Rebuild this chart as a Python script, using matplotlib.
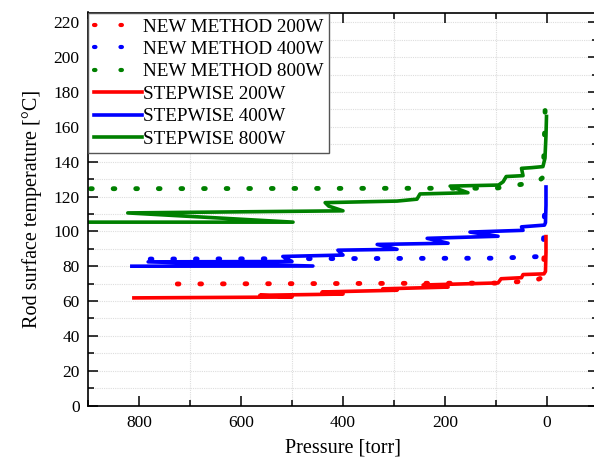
import matplotlib
matplotlib.use("Agg")
import matplotlib.pyplot as plt
import numpy as np

plt.rcParams['font.family'] = ['Liberation Serif', 'DejaVu Serif']

# NEW METHOD (dotted) - pressure [torr], temperature [degC]
new200_p = [725, 100, 24, 8, 6, 5]
new200_t = [69.8, 70.3, 71.7, 73.6, 85, 92]
new400_p = [778, 100, 18, 8, 6, 5]
new400_t = [84.1, 84.6, 85.5, 88.5, 100, 110]
new800_p = [895, 100, 50, 20, 8, 6, 4, 3]
new800_t = [124.5, 124.8, 127.0, 128.0, 131, 145, 165, 181]

# STEPWISE (solid)
step200_p = [810, 500, 563, 400, 441, 294, 322, 194, 243, 96, 90, 50, 47, 6, 3, 2, 2]
step200_t = [61.8, 62.3, 63.3, 64.0, 65.2, 66.2, 67.0, 68.0, 69.2, 70.4, 72.8, 73.4, 75.2, 75.6, 77, 88, 97]
step400_p = [814, 459, 782, 500, 518, 400, 410, 294, 333, 194, 235, 96, 151, 47, 50, 5, 3, 2, 2]
step400_t = [80.0, 80.1, 82.5, 82.7, 85.6, 86.4, 89.2, 89.7, 92.5, 93.2, 96.0, 97.2, 99.6, 100.6, 102.6, 103.6, 105, 115, 125.5]
step800_p = [905, 498, 822, 400, 428, 435, 294, 255, 249, 155, 190, 95, 86, 80, 47, 50, 30, 8, 4, 2, 1]
step800_t = [105.3, 105.3, 110.6, 111.8, 114.5, 116.5, 117.4, 118.5, 121.5, 122.2, 126.0, 126.6, 128.5, 131.5, 132.0, 136.2, 136.6, 137.2, 142, 155, 166]

fig = plt.figure(figsize=(5.94, 4.61), dpi=100)
ax = fig.add_axes([88 / 594, 1 - 405.5 / 461, (598 - 88) / 594, (405.5 - 12.5) / 461])

dot = (0, (0.35, 4.3))
ax.plot(new200_p, new200_t, color='#ff0000', lw=3.5, ls=dot, dash_capstyle='round', label='NEW METHOD 200W')
ax.plot(new400_p, new400_t, color='#0000ff', lw=3.5, ls=dot, dash_capstyle='round', label='NEW METHOD 400W')
ax.plot(new800_p, new800_t, color='#008000', lw=3.5, ls=dot, dash_capstyle='round', label='NEW METHOD 800W')
ax.plot(step200_p, step200_t, color='#ff0000', lw=2.6, solid_joinstyle='round', label='STEPWISE 200W')
ax.plot(step400_p, step400_t, color='#0000ff', lw=2.6, solid_joinstyle='round', label='STEPWISE 400W')
ax.plot(step800_p, step800_t, color='#008000', lw=2.6, solid_joinstyle='round', label='STEPWISE 800W')

ax.set_xlim(900, -100)
ax.set_ylim(0, 225.7)
ax.set_xticks([800, 600, 400, 200, 0])
ax.set_xticks(np.arange(900, -101, -100), minor=True)
ax.set_yticks(np.arange(0, 221, 20))
ax.set_yticks(np.arange(0, 221, 10), minor=True)

for gx in [700, 500, 300, 100]:
    ax.axvline(gx, color='#dddddd', lw=0.8, ls=(0, (1, 1)), zorder=0)
for gy in np.arange(10, 221, 10):
    ax.axhline(gy, color='#dddddd', lw=0.8, ls=(0, (1, 1)), zorder=0)

ax.tick_params(which='both', direction='in', top=True, right=True, width=1.1, labelsize=12.5)
ax.tick_params(which='major', length=7)
ax.tick_params(which='minor', length=4)
ax.tick_params(axis='y', pad=6)
ax.tick_params(axis='x', pad=7)
for s in ax.spines.values():
    s.set_linewidth(1.2)

ax.set_xlabel('Pressure [torr]', fontsize=14.5, labelpad=5)
ax.set_ylabel('Rod surface temperature [°C]', fontsize=14.5, labelpad=8)

leg = ax.legend(loc='upper left', bbox_to_anchor=(0, 1), borderaxespad=0, fontsize=13.8,
                handlelength=2.5, handletextpad=0.05, borderpad=0.3, labelspacing=0.26,
                fancybox=False, framealpha=1, edgecolor='#555555')
leg.get_frame().set_linewidth(1.0)
# legend dots a bit wider apart, two per handle
for h in leg.get_lines()[:3]:
    h.set_linewidth(3.0)
    h.set_dashes((0.35, 6.0))

fig.savefig('out.png', dpi=100)
